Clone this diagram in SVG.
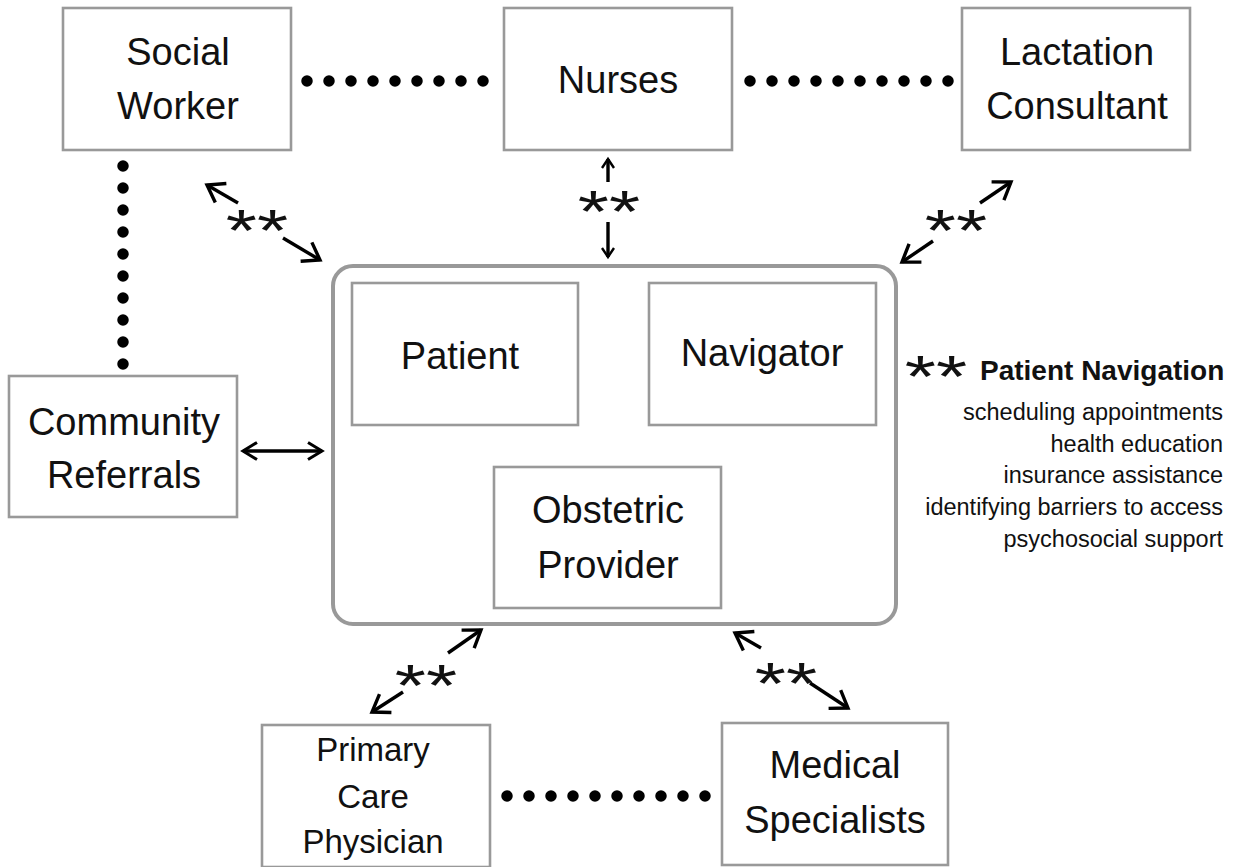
<svg xmlns="http://www.w3.org/2000/svg" width="1249" height="867" viewBox="0 0 1249 867">
  <style>
    .box { fill: #ffffff; stroke: #999999; stroke-width: 2.6; }
    .team { fill: #ffffff; stroke: #999999; stroke-width: 4; }
    .lbl { font-family: "Liberation Sans", Arial, sans-serif; font-size: 38px; fill: #111111; text-anchor: middle; }
    .lbl-sm { font-size: 33px; }
    .star { font-family: "Liberation Sans", Arial, sans-serif; font-size: 80px; fill: #111111; text-anchor: middle; }
    .dots { stroke: #000000; stroke-width: 11.5; stroke-linecap: round; stroke-dasharray: 0 22; fill: none; }
    .link { stroke: #000000; stroke-width: 5; fill: none; }
    .arr { stroke: #000000; stroke-width: 3.4; fill: none; }
    .legend-title { font-family: "Liberation Sans", Arial, sans-serif; font-size: 28px; font-weight: bold; fill: #111111; }
    .legend-item { font-family: "Liberation Sans", Arial, sans-serif; font-size: 23.5px; fill: #111111; text-anchor: end; }
  </style>
  <defs>
    <marker id="headL" markerUnits="userSpaceOnUse" markerWidth="40" markerHeight="40" refX="0" refY="0" viewBox="-20 -20 40 40" orient="auto-start-reverse" overflow="visible">
      <path d="M -16 -11 L 0 0 L -16 11" fill="none" stroke="#000" stroke-width="3.4" stroke-linejoin="miter"/>
    </marker>
    <marker id="headM" markerUnits="userSpaceOnUse" markerWidth="40" markerHeight="40" refX="0" refY="0" viewBox="-20 -20 40 40" orient="auto-start-reverse" overflow="visible">
      <path d="M -14 -8.5 L 0 0 L -14 8.5" fill="none" stroke="#000" stroke-width="3" stroke-linejoin="miter"/>
    </marker>
    <marker id="headS" markerUnits="userSpaceOnUse" markerWidth="30" markerHeight="30" refX="0" refY="0" viewBox="-15 -15 30 30" orient="auto-start-reverse" overflow="visible">
      <path d="M -9 -6 L 0 0 L -9 6" fill="none" stroke="#000" stroke-width="2.4" stroke-linejoin="miter"/>
    </marker>
  </defs>

  <rect width="1249" height="867" fill="#ffffff"/>

  <!-- connectors -->
  <g id="connectors">
    <!-- dotted peer links -->
    <line class="dots" x1="307" y1="81" x2="484" y2="81"/>
    <line class="dots" x1="750" y1="81" x2="949" y2="81"/>
    <line class="dots" x1="123" y1="166" x2="123" y2="365"/>
    <line class="dots" x1="507" y1="796" x2="708" y2="796" stroke-dasharray="0 21.8"/>

    <!-- solid links inside the care team -->
    <line class="link" x1="578" y1="356" x2="649" y2="356"/>
    <line class="link" x1="443" y1="430" x2="491" y2="483"/>
    <line class="link" x1="775" y1="431" x2="727" y2="483"/>

    <!-- navigation arrows -->
    <line class="arr" x1="238" y1="203" x2="207" y2="185" marker-end="url(#headL)"/>
    <line class="arr" x1="283" y1="238" x2="320" y2="260" marker-end="url(#headL)"/>

    <line class="arr" x1="608" y1="182" x2="608" y2="159" stroke-width="2.4" marker-end="url(#headS)"/>
    <line class="arr" x1="608" y1="222" x2="608" y2="257" stroke-width="2.4" marker-end="url(#headS)"/>

    <line class="arr" x1="980" y1="203" x2="1011" y2="182" marker-end="url(#headL)"/>
    <line class="arr" x1="933" y1="241" x2="902" y2="262" marker-end="url(#headL)"/>

    <line class="arr" x1="243" y1="451" x2="322" y2="451" stroke-width="3" marker-start="url(#headM)" marker-end="url(#headM)"/>

    <line class="arr" x1="448" y1="653" x2="481" y2="630" marker-end="url(#headL)"/>
    <line class="arr" x1="403" y1="692" x2="372" y2="712" marker-end="url(#headL)"/>

    <line class="arr" x1="761" y1="648" x2="735" y2="633" marker-end="url(#headL)"/>
    <line class="arr" x1="810" y1="683" x2="848" y2="708" marker-end="url(#headL)"/>

    <!-- navigation markers on the arrows (glyphs flattened a little) -->
    <text class="star" transform="translate(257 222) scale(1 0.75)" y="38">**</text>
    <text class="star" transform="translate(609 203) scale(1 0.75)" y="38">**</text>
    <text class="star" transform="translate(956 222) scale(1 0.75)" y="38">**</text>
    <text class="star" transform="translate(426 677) scale(1 0.75)" y="38">**</text>
    <text class="star" transform="translate(786 675) scale(1 0.75)" y="38">**</text>
  </g>

  <!-- outer nodes -->
  <g id="social-worker">
    <rect class="box" x="63" y="8" width="228" height="142"/>
    <text class="lbl" x="178" y="65">Social</text>
    <text class="lbl" x="178" y="119">Worker</text>
  </g>
  <g id="nurses">
    <rect class="box" x="504" y="8" width="228" height="142"/>
    <text class="lbl" x="618" y="93">Nurses</text>
  </g>
  <g id="lactation-consultant">
    <rect class="box" x="962" y="8" width="228" height="142"/>
    <text class="lbl" x="1077" y="65">Lactation</text>
    <text class="lbl" x="1077" y="119">Consultant</text>
  </g>
  <g id="community-referrals">
    <rect class="box" x="9" y="376" width="228" height="141"/>
    <text class="lbl" x="124" y="435">Community</text>
    <text class="lbl" x="124" y="488">Referrals</text>
  </g>
  <g id="primary-care-physician">
    <rect class="box" x="262" y="725" width="228" height="142"/>
    <text class="lbl lbl-sm" x="373" y="761">Primary</text>
    <text class="lbl lbl-sm" x="373" y="808">Care</text>
    <text class="lbl lbl-sm" x="373" y="853">Physician</text>
  </g>
  <g id="medical-specialists">
    <rect class="box" x="722" y="723" width="226" height="142"/>
    <text class="lbl" x="835" y="778">Medical</text>
    <text class="lbl" x="835" y="833">Specialists</text>
  </g>

  <!-- core care team -->
  <g id="care-team">
    <rect class="team" x="333" y="266" width="563" height="358" rx="20" ry="20"/>
  </g>
  <g id="patient">
    <rect class="box" x="352" y="283" width="226" height="142"/>
    <text class="lbl" x="460" y="369">Patient</text>
  </g>
  <g id="navigator">
    <rect class="box" x="649" y="283" width="227" height="142"/>
    <text class="lbl" x="762" y="366">Navigator</text>
  </g>
  <g id="obstetric-provider">
    <rect class="box" x="494" y="467" width="227" height="141"/>
    <text class="lbl" x="608" y="523">Obstetric</text>
    <text class="lbl" x="608" y="578">Provider</text>
  </g>

  <!-- legend -->
  <g id="legend">
    <text class="star" transform="translate(936 368) scale(1 0.75)" y="38">**</text>
    <text class="legend-title" x="980" y="380">Patient Navigation</text>
    <text class="legend-item" x="1223" y="420">scheduling appointments</text>
    <text class="legend-item" x="1223" y="452">health education</text>
    <text class="legend-item" x="1223" y="483">insurance assistance</text>
    <text class="legend-item" x="1223" y="515">identifying barriers to access</text>
    <text class="legend-item" x="1223" y="547">psychosocial support</text>
  </g>
</svg>
